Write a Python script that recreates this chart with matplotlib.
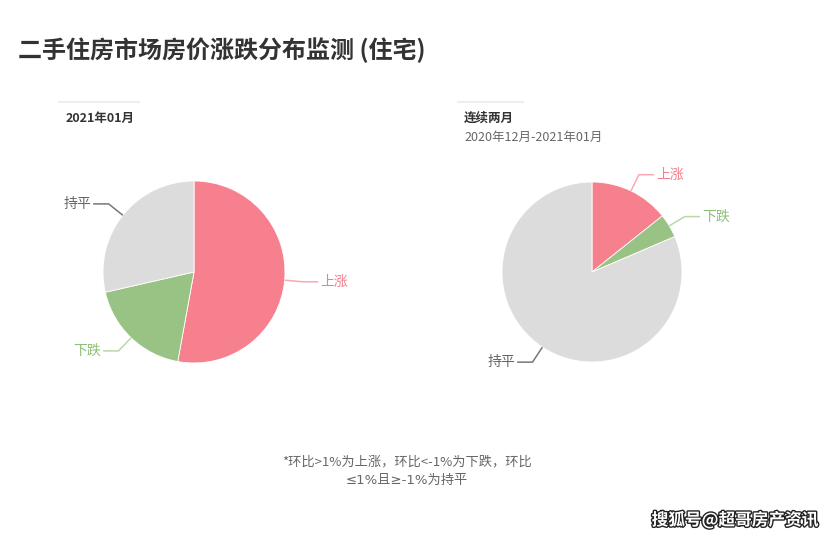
import matplotlib
matplotlib.use("Agg")
import matplotlib.pyplot as plt
import matplotlib.patheffects as pe
import numpy as np

plt.rcParams['font.family'] = ['Noto Sans CJK SC', 'DejaVu Sans']

# data (city counts)
labels = ["上涨", "下跌", "持平"]
month_vals = [37, 13, 20]       # 2021年01月
two_month_vals = [10, 3, 57]    # 连续两月

colors = ["#f7808f", "#98c384", "#dcdcdc"]
text_colors = ["#f47e8e", "#8dbf77", "#666666"]
line_colors = ["#f9a9b4", "#b8d9a8", "#777777"]

W, H = 834, 538
fig = plt.figure(figsize=(W / 100, H / 100), dpi=100)

def fx(px):
    return px / W

def fy(py):
    return 1 - py / H

def draw_pie(cx, cy, r, vals):
    lim = 1.6
    size = 2 * lim * r
    ax = fig.add_axes([fx(cx - size / 2), fy(cy + size / 2), size / W, size / H])
    wedges, _ = ax.pie(vals, colors=colors, startangle=90, counterclock=False,
                       radius=1, wedgeprops=dict(edgecolor="white", linewidth=0.6))
    ax.set_xlim(-lim, lim)
    ax.set_ylim(-lim, lim)
    ax.set_aspect("equal")
    ax.axis("off")
    for i, w in enumerate(wedges):
        mid = np.deg2rad((w.theta1 + w.theta2) / 2)
        x0, y0 = np.cos(mid), np.sin(mid)
        x1, y1 = 1.2 * x0, 1.2 * y0
        side = 1 if x0 >= 0 else -1
        x2 = x1 + side * 0.17
        ax.plot([x0, x1, x2], [y0, y1, y1], color=line_colors[i], lw=1.1,
                solid_capstyle="butt")
        ax.text(x2 + side * 0.02, y1, labels[i], color=text_colors[i], fontsize=10,
                ha="left" if side > 0 else "right", va="center")
    return ax

draw_pie(194, 272, 91, month_vals)
draw_pie(592, 272, 90, two_month_vals)

# title
fig.text(fx(18), fy(50), "二手住房市场房价涨跌分布监测 (住宅)", fontsize=17.3,
         fontweight="bold", color="#333333", ha="left", va="center")

# sub-headers with short gray rule above
fig.add_artist(plt.Line2D([fx(59), fx(139)], [fy(102), fy(102)], color="#eeeeee", lw=1.5))
fig.add_artist(plt.Line2D([fx(458), fx(523)], [fy(102), fy(102)], color="#eeeeee", lw=1.5))
fig.text(fx(66), fy(118), "2021年01月", fontsize=9, fontweight="bold",
         color="#333333", ha="left", va="center")
fig.text(fx(464), fy(118), "连续两月", fontsize=9, fontweight="bold",
         color="#333333", ha="left", va="center")
fig.text(fx(464), fy(137), "2020年12月-2021年01月", fontsize=9,
         color="#666666", ha="left", va="center")

# footnote
fig.text(fx(407), fy(462), "*环比>1%为上涨，环比<-1%为下跌，环比", fontsize=9.5,
         color="#666666", ha="center", va="center")
fig.text(fx(407), fy(480), "≤1%且≥-1%为持平", fontsize=9.5,
         family=['DejaVu Sans', 'Noto Sans CJK SC'],
         color="#666666", ha="center", va="center")

# watermark
fig.text(fx(818), fy(520), "搜狐号@超哥房产资讯", fontsize=12, fontweight="bold",
         color="white", ha="right", va="center",
         path_effects=[pe.withStroke(linewidth=2.0, foreground="#222222")])

fig.savefig("out.png", dpi=100)
